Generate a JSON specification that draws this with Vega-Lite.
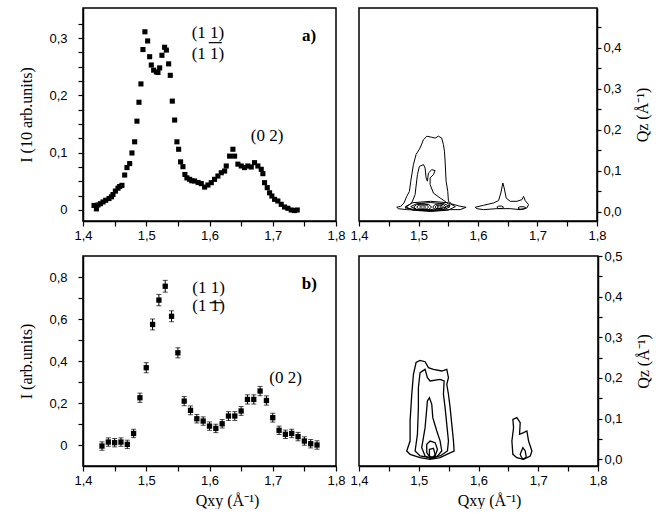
{
  "$schema": "https://vega.github.io/schema/vega-lite/v6.json",
  "background": "white",
  "padding": {"left": 18, "top": 7, "right": 5, "bottom": 0},
  "columns": 2,
  "spacing": {"row": 35, "column": 23},
  "bounds": "flush",
  "config": {
    "view": {"stroke": "black", "strokeWidth": 1.5},
    "axis": {"domainColor": "black", "domainWidth": 1.5, "tickColor": "black", "tickWidth": 1.2, "labelColor": "black", "labelFont": "Liberation Sans", "labelFontSize": 13, "titleFont": "Liberation Serif", "titleFontSize": 16, "titleFontWeight": "normal", "titleColor": "black", "grid": false, "labelFlush": false, "labelOverlap": false},
    "text": {"font": "Liberation Serif", "fontSize": 17, "color": "black"}
  },
  "datasets": {
    "a": [
      {"q":1.4174,"i":0.008},{"q":1.4212,"i":0.002},{"q":1.4237,"i":0.0087},{"q":1.4275,"i":0.011},{"q":1.4316,"i":0.014},{"q":1.4359,"i":0.017},{"q":1.4411,"i":0.020},{"q":1.4449,"i":0.023},{"q":1.4474,"i":0.027},{"q":1.4512,"i":0.033},{"q":1.4553,"i":0.038},{"q":1.458,"i":0.041},{"q":1.4616,"i":0.043},{"q":1.4659,"i":0.061},{"q":1.4695,"i":0.074},{"q":1.4738,"i":0.081},{"q":1.4774,"i":0.0995},{"q":1.4817,"i":0.119},{"q":1.4853,"i":0.155},{"q":1.4885,"i":0.188},{"q":1.4916,"i":0.22},{"q":1.4948,"i":0.28},{"q":1.4979,"i":0.311},{"q":1.5022,"i":0.295},{"q":1.5054,"i":0.2675},{"q":1.508,"i":0.253},{"q":1.5117,"i":0.244},{"q":1.516,"i":0.241},{"q":1.5185,"i":0.240},{"q":1.5212,"i":0.248},{"q":1.5248,"i":0.270},{"q":1.529,"i":0.284},{"q":1.5318,"i":0.279},{"q":1.5354,"i":0.255},{"q":1.538,"i":0.235},{"q":1.5412,"i":0.19},{"q":1.5449,"i":0.157},{"q":1.5485,"i":0.119},{"q":1.5512,"i":0.106},{"q":1.5543,"i":0.084},{"q":1.558,"i":0.0756},{"q":1.5611,"i":0.062},{"q":1.5643,"i":0.056},{"q":1.5686,"i":0.0535},{"q":1.572,"i":0.051},{"q":1.5765,"i":0.0506},{"q":1.582,"i":0.048},{"q":1.587,"i":0.046},{"q":1.5923,"i":0.040},{"q":1.5975,"i":0.0436},{"q":1.6028,"i":0.0477},{"q":1.608,"i":0.0535},{"q":1.6133,"i":0.0593},{"q":1.6186,"i":0.065},{"q":1.6239,"i":0.068},{"q":1.6265,"i":0.0768},{"q":1.6318,"i":0.094},{"q":1.637,"i":0.106},{"q":1.6397,"i":0.094},{"q":1.6449,"i":0.080},{"q":1.6502,"i":0.0768},{"q":1.6555,"i":0.074},{"q":1.6607,"i":0.0768},{"q":1.666,"i":0.075},{"q":1.6712,"i":0.0826},{"q":1.6765,"i":0.0768},{"q":1.6818,"i":0.071},{"q":1.6844,"i":0.0634},{"q":1.687,"i":0.0477},{"q":1.6913,"i":0.039},{"q":1.695,"i":0.030},{"q":1.6986,"i":0.0244},{"q":1.7029,"i":0.0186},{"q":1.7081,"i":0.0157},{"q":1.7134,"i":0.0099},{"q":1.7187,"i":0.0052},{"q":1.7239,"i":0.003},{"q":1.7292,"i":0.0},{"q":1.7344,"i":-0.001},{"q":1.7387,"i":0.0}
    ],
    "b": [
      {"q":1.43,"i":-0.005,"e":0.02},{"q":1.44,"i":0.014,"e":0.02},{"q":1.45,"i":0.011,"e":0.02},{"q":1.46,"i":0.014,"e":0.02},{"q":1.47,"i":0.003,"e":0.02},{"q":1.48,"i":0.055,"e":0.02},{"q":1.49,"i":0.225,"e":0.022},{"q":1.50,"i":0.368,"e":0.024},{"q":1.51,"i":0.574,"e":0.026},{"q":1.52,"i":0.69,"e":0.027},{"q":1.53,"i":0.756,"e":0.028},{"q":1.54,"i":0.613,"e":0.026},{"q":1.55,"i":0.439,"e":0.024},{"q":1.56,"i":0.209,"e":0.022},{"q":1.57,"i":0.165,"e":0.021},{"q":1.58,"i":0.125,"e":0.02},{"q":1.59,"i":0.114,"e":0.02},{"q":1.60,"i":0.09,"e":0.02},{"q":1.61,"i":0.079,"e":0.02},{"q":1.62,"i":0.101,"e":0.02},{"q":1.63,"i":0.138,"e":0.021},{"q":1.64,"i":0.138,"e":0.021},{"q":1.65,"i":0.162,"e":0.021},{"q":1.66,"i":0.217,"e":0.022},{"q":1.67,"i":0.217,"e":0.022},{"q":1.68,"i":0.257,"e":0.022},{"q":1.69,"i":0.212,"e":0.022},{"q":1.70,"i":0.13,"e":0.021},{"q":1.71,"i":0.07,"e":0.02},{"q":1.72,"i":0.051,"e":0.02},{"q":1.73,"i":0.055,"e":0.02},{"q":1.74,"i":0.04,"e":0.02},{"q":1.75,"i":0.019,"e":0.02},{"q":1.76,"i":0.006,"e":0.02},{"q":1.77,"i":0.0,"e":0.02}
    ],
    "ca": [
      {"c":"o","o":0,"q":1.4634,"z":0.0114},{"c":"o","o":1,"q":1.4701,"z":0.0138},{"c":"o","o":2,"q":1.4757,"z":0.022},{"c":"o","o":3,"q":1.4802,"z":0.038},{"c":"o","o":4,"q":1.4847,"z":0.050},{"c":"o","o":5,"q":1.487,"z":0.075},{"c":"o","o":6,"q":1.4914,"z":0.115},{"c":"o","o":7,"q":1.4959,"z":0.14},{"c":"o","o":8,"q":1.5027,"z":0.156},{"c":"o","o":9,"q":1.5083,"z":0.176},{"c":"o","o":10,"q":1.5139,"z":0.1846},{"c":"o","o":11,"q":1.5223,"z":0.182},{"c":"o","o":12,"q":1.5279,"z":0.180},{"c":"o","o":13,"q":1.5335,"z":0.1846},{"c":"o","o":14,"q":1.5391,"z":0.180},{"c":"o","o":15,"q":1.5419,"z":0.164},{"c":"o","o":16,"q":1.5436,"z":0.148},{"c":"o","o":17,"q":1.5447,"z":0.124},{"c":"o","o":18,"q":1.5464,"z":0.075},{"c":"o","o":19,"q":1.5492,"z":0.050},{"c":"o","o":20,"q":1.5503,"z":0.026},{"c":"o","o":21,"q":1.556,"z":0.0195},{"c":"o","o":22,"q":1.570,"z":0.0138},{"c":"o","o":23,"q":1.580,"z":0.0114},{"c":"o","o":24,"q":1.570,"z":0.0057},{"c":"o","o":25,"q":1.5532,"z":0.0057},{"c":"o","o":26,"q":1.5195,"z":0.0033},{"c":"o","o":27,"q":1.4802,"z":0.0057},{"c":"o","o":28,"q":1.4662,"z":0.008},
      {"c":"s","o":0,"q":1.4774,"z":0.0098},{"c":"s","o":1,"q":1.4886,"z":0.022},{"c":"s","o":2,"q":1.4942,"z":0.042},{"c":"s","o":3,"q":1.4982,"z":0.091},{"c":"s","o":4,"q":1.5015,"z":0.111},{"c":"s","o":5,"q":1.5083,"z":0.1154},{"c":"s","o":6,"q":1.5111,"z":0.107},{"c":"s","o":7,"q":1.5128,"z":0.083},{"c":"s","o":8,"q":1.515,"z":0.075},{"c":"s","o":9,"q":1.5167,"z":0.095},{"c":"s","o":10,"q":1.5223,"z":0.103},{"c":"s","o":11,"q":1.5279,"z":0.101},{"c":"s","o":12,"q":1.5251,"z":0.091},{"c":"s","o":13,"q":1.5195,"z":0.083},{"c":"s","o":14,"q":1.5195,"z":0.067},{"c":"s","o":15,"q":1.5251,"z":0.046},{"c":"s","o":16,"q":1.5363,"z":0.034},{"c":"s","o":17,"q":1.5447,"z":0.026},{"c":"s","o":18,"q":1.5532,"z":0.016},{"c":"s","o":19,"q":1.5419,"z":0.0098},{"c":"s","o":20,"q":1.5195,"z":0.0057},{"c":"s","o":21,"q":1.4914,"z":0.0065},
      {"c":"rA","o":0,"q":1.478,"z":0.013},{"c":"rA","o":1,"q":1.490,"z":0.0225},{"c":"rA","o":2,"q":1.52,"z":0.026},{"c":"rA","o":3,"q":1.550,"z":0.0225},{"c":"rA","o":4,"q":1.562,"z":0.013},{"c":"rA","o":5,"q":1.550,"z":0.0045},{"c":"rA","o":6,"q":1.52,"z":0.001},{"c":"rA","o":7,"q":1.490,"z":0.0045},
      {"c":"rB","o":0,"q":1.487,"z":0.013},{"c":"rB","o":1,"q":1.4965,"z":0.020},{"c":"rB","o":2,"q":1.52,"z":0.023},{"c":"rB","o":3,"q":1.5435,"z":0.020},{"c":"rB","o":4,"q":1.553,"z":0.013},{"c":"rB","o":5,"q":1.5435,"z":0.006},{"c":"rB","o":6,"q":1.52,"z":0.003},{"c":"rB","o":7,"q":1.4965,"z":0.006},
      {"c":"L1","o":0,"q":1.492,"z":0.012},{"c":"L1","o":1,"q":1.4965,"z":0.0176},{"c":"L1","o":2,"q":1.507,"z":0.020},{"c":"L1","o":3,"q":1.5175,"z":0.0176},{"c":"L1","o":4,"q":1.522,"z":0.012},{"c":"L1","o":5,"q":1.5175,"z":0.0064},{"c":"L1","o":6,"q":1.507,"z":0.004},{"c":"L1","o":7,"q":1.4965,"z":0.0064},
      {"c":"L2","o":0,"q":1.497,"z":0.012},{"c":"L2","o":1,"q":1.500,"z":0.0162},{"c":"L2","o":2,"q":1.507,"z":0.018},{"c":"L2","o":3,"q":1.514,"z":0.0162},{"c":"L2","o":4,"q":1.517,"z":0.012},{"c":"L2","o":5,"q":1.514,"z":0.0078},{"c":"L2","o":6,"q":1.507,"z":0.006},{"c":"L2","o":7,"q":1.500,"z":0.0078},
      {"c":"L3","o":0,"q":1.502,"z":0.012},{"c":"L3","o":1,"q":1.5035,"z":0.0141},{"c":"L3","o":2,"q":1.507,"z":0.015},{"c":"L3","o":3,"q":1.5105,"z":0.0141},{"c":"L3","o":4,"q":1.512,"z":0.012},{"c":"L3","o":5,"q":1.5105,"z":0.0099},{"c":"L3","o":6,"q":1.507,"z":0.009},{"c":"L3","o":7,"q":1.5035,"z":0.0099},
      {"c":"R1","o":0,"q":1.524,"z":0.012},{"c":"R1","o":1,"q":1.5273,"z":0.0176},{"c":"R1","o":2,"q":1.535,"z":0.020},{"c":"R1","o":3,"q":1.5427,"z":0.0176},{"c":"R1","o":4,"q":1.546,"z":0.012},{"c":"R1","o":5,"q":1.5427,"z":0.0064},{"c":"R1","o":6,"q":1.535,"z":0.004},{"c":"R1","o":7,"q":1.5273,"z":0.0064},
      {"c":"R2","o":0,"q":1.528,"z":0.012},{"c":"R2","o":1,"q":1.5301,"z":0.0155},{"c":"R2","o":2,"q":1.535,"z":0.017},{"c":"R2","o":3,"q":1.5399,"z":0.0155},{"c":"R2","o":4,"q":1.542,"z":0.012},{"c":"R2","o":5,"q":1.5399,"z":0.0085},{"c":"R2","o":6,"q":1.535,"z":0.007},{"c":"R2","o":7,"q":1.5301,"z":0.0085},
      {"c":"R3","o":0,"q":1.5315,"z":0.012},{"c":"R3","o":1,"q":1.5326,"z":0.0141},{"c":"R3","o":2,"q":1.535,"z":0.015},{"c":"R3","o":3,"q":1.5375,"z":0.0141},{"c":"R3","o":4,"q":1.5385,"z":0.012},{"c":"R3","o":5,"q":1.5375,"z":0.0099},{"c":"R3","o":6,"q":1.535,"z":0.009},{"c":"R3","o":7,"q":1.5326,"z":0.0099},
      {"c":"p","o":0,"q":1.5952,"z":0.0114},{"c":"p","o":1,"q":1.6093,"z":0.0163},{"c":"p","o":2,"q":1.6261,"z":0.022},{"c":"p","o":3,"q":1.6345,"z":0.0276},{"c":"p","o":4,"q":1.6384,"z":0.0463},{"c":"p","o":5,"q":1.6418,"z":0.0707},{"c":"p","o":6,"q":1.644,"z":0.0585},{"c":"p","o":7,"q":1.6474,"z":0.034},{"c":"p","o":8,"q":1.6541,"z":0.026},{"c":"p","o":9,"q":1.6654,"z":0.026},{"c":"p","o":10,"q":1.6738,"z":0.030},{"c":"p","o":11,"q":1.6766,"z":0.038},{"c":"p","o":12,"q":1.6794,"z":0.0276},{"c":"p","o":13,"q":1.685,"z":0.0179},{"c":"p","o":14,"q":1.6822,"z":0.0098},{"c":"p","o":15,"q":1.671,"z":0.0057},{"c":"p","o":16,"q":1.6541,"z":0.0081},{"c":"p","o":17,"q":1.6317,"z":0.0081},{"c":"p","o":18,"q":1.6093,"z":0.0057},{"c":"p","o":19,"q":1.598,"z":0.0081},
      {"c":"E1","o":0,"q":1.6317,"z":0.0114},{"c":"E1","o":1,"q":1.6345,"z":0.0143},{"c":"E1","o":2,"q":1.6401,"z":0.0143},{"c":"E1","o":3,"q":1.6429,"z":0.0114},{"c":"E1","o":4,"q":1.6401,"z":0.0085},{"c":"E1","o":5,"q":1.6345,"z":0.0085},
      {"c":"E2","o":0,"q":1.6671,"z":0.0098},{"c":"E2","o":1,"q":1.6705,"z":0.0127},{"c":"E2","o":2,"q":1.6771,"z":0.0127},{"c":"E2","o":3,"q":1.6805,"z":0.0098},{"c":"E2","o":4,"q":1.6771,"z":0.0069},{"c":"E2","o":5,"q":1.6705,"z":0.0069}
    ],
    "cb": [
      {"c":"o","o":0,"q":1.4799,"z":0.0205},{"c":"o","o":1,"q":1.4855,"z":0.045},{"c":"o","o":2,"q":1.4855,"z":0.094},{"c":"o","o":3,"q":1.4883,"z":0.16},{"c":"o","o":4,"q":1.4911,"z":0.209},{"c":"o","o":5,"q":1.4955,"z":0.238},{"c":"o","o":6,"q":1.5022,"z":0.2434},{"c":"o","o":7,"q":1.5106,"z":0.240},{"c":"o","o":8,"q":1.5162,"z":0.2254},{"c":"o","o":9,"q":1.5246,"z":0.2213},{"c":"o","o":10,"q":1.5385,"z":0.2172},{"c":"o","o":11,"q":1.5469,"z":0.2213},{"c":"o","o":12,"q":1.5497,"z":0.2008},{"c":"o","o":13,"q":1.5469,"z":0.1844},{"c":"o","o":14,"q":1.5497,"z":0.16},{"c":"o","o":15,"q":1.5525,"z":0.127},{"c":"o","o":16,"q":1.5553,"z":0.086},{"c":"o","o":17,"q":1.5581,"z":0.045},{"c":"o","o":18,"q":1.5592,"z":0.0205},{"c":"o","o":19,"q":1.5469,"z":0.0123},{"c":"o","o":20,"q":1.5358,"z":0.0041},{"c":"o","o":21,"q":1.519,"z":0.0},{"c":"o","o":22,"q":1.5022,"z":0.0041},{"c":"o","o":23,"q":1.4855,"z":0.0123},
      {"c":"s","o":0,"q":1.4939,"z":0.0205},{"c":"s","o":1,"q":1.4978,"z":0.0615},{"c":"s","o":2,"q":1.4994,"z":0.127},{"c":"s","o":3,"q":1.4994,"z":0.176},{"c":"s","o":4,"q":1.5022,"z":0.213},{"c":"s","o":5,"q":1.5106,"z":0.2213},{"c":"s","o":6,"q":1.5145,"z":0.2008},{"c":"s","o":7,"q":1.519,"z":0.1926},{"c":"s","o":8,"q":1.5358,"z":0.1967},{"c":"s","o":9,"q":1.5425,"z":0.1926},{"c":"s","o":10,"q":1.5413,"z":0.16},{"c":"s","o":11,"q":1.5441,"z":0.127},{"c":"s","o":12,"q":1.5469,"z":0.086},{"c":"s","o":13,"q":1.5497,"z":0.045},{"c":"s","o":14,"q":1.548,"z":0.0205},{"c":"s","o":15,"q":1.5358,"z":0.0082},{"c":"s","o":16,"q":1.519,"z":0.0041},{"c":"s","o":17,"q":1.5022,"z":0.0082},
      {"c":"t","o":0,"q":1.505,"z":0.0287},{"c":"t","o":1,"q":1.5106,"z":0.0779},{"c":"t","o":2,"q":1.5145,"z":0.1434},{"c":"t","o":3,"q":1.5179,"z":0.1516},{"c":"t","o":4,"q":1.5218,"z":0.1352},{"c":"t","o":5,"q":1.5235,"z":0.1025},{"c":"t","o":6,"q":1.5302,"z":0.0697},{"c":"t","o":7,"q":1.5358,"z":0.045},{"c":"t","o":8,"q":1.5385,"z":0.0205},{"c":"t","o":9,"q":1.5302,"z":0.0057},{"c":"t","o":10,"q":1.519,"z":0.0025},{"c":"t","o":11,"q":1.5106,"z":0.0082},
      {"c":"u","o":0,"q":1.5134,"z":0.0369},{"c":"u","o":1,"q":1.519,"z":0.045},{"c":"u","o":2,"q":1.5274,"z":0.041},{"c":"u","o":3,"q":1.5313,"z":0.0246},{"c":"u","o":4,"q":1.5274,"z":0.0082},{"c":"u","o":5,"q":1.519,"z":0.0041},{"c":"u","o":6,"q":1.5134,"z":0.0164},
      {"c":"v","o":0,"q":1.5179,"z":0.0246},{"c":"v","o":1,"q":1.5246,"z":0.027},{"c":"v","o":2,"q":1.5274,"z":0.0123},{"c":"v","o":3,"q":1.5235,"z":0.0025},{"c":"v","o":4,"q":1.5179,"z":0.0082},
      {"c":"p","o":0,"q":1.6575,"z":0.0123},{"c":"p","o":1,"q":1.6559,"z":0.045},{"c":"p","o":2,"q":1.6587,"z":0.0779},{"c":"p","o":3,"q":1.6575,"z":0.0984},{"c":"p","o":4,"q":1.6642,"z":0.1025},{"c":"p","o":5,"q":1.6698,"z":0.0902},{"c":"p","o":6,"q":1.6687,"z":0.0615},{"c":"p","o":7,"q":1.6754,"z":0.0656},{"c":"p","o":8,"q":1.681,"z":0.0697},{"c":"p","o":9,"q":1.6838,"z":0.045},{"c":"p","o":10,"q":1.6894,"z":0.0205},{"c":"p","o":11,"q":1.6866,"z":0.0082},{"c":"p","o":12,"q":1.6754,"z":0.0},{"c":"p","o":13,"q":1.6642,"z":0.0041},
      {"c":"w","o":0,"q":1.6698,"z":0.0123},{"c":"w","o":1,"q":1.6743,"z":0.0287},{"c":"w","o":2,"q":1.6782,"z":0.0205},{"c":"w","o":3,"q":1.6799,"z":0.0057},{"c":"w","o":4,"q":1.6743,"z":0.0},{"c":"w","o":5,"q":1.6709,"z":0.0082}
    ]
  },
  "concat": [
    {
      "width": 253, "height": 213,
      "encoding": {
        "x": {"field": "q", "type": "quantitative", "scale": {"domain": [1.4, 1.8], "nice": false, "zero": false},
          "axis": {"title": null, "values": [1.4,1.45,1.5,1.55,1.6,1.65,1.7,1.75,1.8], "tickSize": 5, "labelPadding": 3, "labelExpr": "abs(datum.value*10 - round(datum.value*10)) < 0.001 ? replace(format(datum.value, '.1f'), '.', ',') : ''"}},
        "y": {"field": "i", "type": "quantitative", "scale": {"domain": [-0.0192, 0.3525], "nice": false, "zero": false},
          "axis": {"title": "I (10 arb.units)", "titlePadding": 14, "values": [0,0.025,0.05,0.075,0.1,0.125,0.15,0.175,0.2,0.225,0.25,0.275,0.3,0.325], "tickSize": 5, "labelPadding": 11, "labelExpr": "datum.value == 0 ? '0' : (abs(datum.value*10 - round(datum.value*10)) < 0.001 ? replace(format(datum.value, '.1f'), '.', ',') : '')"}}
      },
      "layer": [
        {"data": {"name": "a"}, "mark": {"type": "point", "shape": "square", "filled": true, "color": "black", "size": 26, "opacity": 1}},
        {"data": {"values": [{"q":1.5975,"i":0.3094,"t":"(1  1)"},{"q":1.5975,"i":0.2717,"t":"(1  1)"},{"q":1.691,"i":0.129,"t":"(0 2)"}]}, "mark": {"type": "text", "align": "center", "baseline": "middle"}, "encoding": {"text": {"field": "t"}}},
        {"data": {"values": [{"q":1.7573,"i":0.3037,"t":"a)"}]}, "mark": {"type": "text", "align": "center", "baseline": "middle", "fontWeight": "bold"}, "encoding": {"text": {"field": "t"}}},
        {"data": {"values": [{"q":1.5988,"q2":1.6194,"i":0.292}]}, "mark": {"type": "rule", "color": "black", "strokeWidth": 1.2}, "encoding": {"x2": {"field": "q2"}}}
      ]
    },
    {
      "width": 238, "height": 213,
      "data": {"name": "ca"},
      "mark": {"type": "line", "interpolate": "linear-closed", "color": "black", "strokeWidth": 1},
      "encoding": {
        "x": {"field": "q", "type": "quantitative", "scale": {"domain": [1.4, 1.8], "nice": false, "zero": false},
          "axis": {"title": null, "values": [1.4,1.45,1.5,1.55,1.6,1.65,1.7,1.75,1.8], "tickSize": 5, "labelPadding": 3, "labelExpr": "abs(datum.value*10 - round(datum.value*10)) < 0.001 ? replace(format(datum.value, '.1f'), '.', ',') : ''"}},
        "y": {"field": "z", "type": "quantitative", "scale": {"domain": [-0.022, 0.497], "nice": false, "zero": false},
          "axis": {"orient": "right", "title": "Qz (Å⁻¹)", "titleAngle": -90, "titleBaseline": "top", "titlePadding": 13, "values": [0,0.05,0.1,0.15,0.2,0.25,0.3,0.35,0.4,0.45], "tickSize": 4, "labelPadding": 2, "labelExpr": "abs(datum.value*10 - round(datum.value*10)) < 0.001 ? replace(format(datum.value, '.1f'), '.', ',') : ''"}},
        "detail": {"field": "c"},
        "order": {"field": "o", "type": "quantitative"}
      }
    },
    {
      "width": 253, "height": 210,
      "encoding": {
        "x": {"field": "q", "type": "quantitative", "scale": {"domain": [1.4, 1.8], "nice": false, "zero": false},
          "axis": {"title": "Qxy (Å⁻¹)", "titleX": 144, "titlePadding": 5, "values": [1.4,1.45,1.5,1.55,1.6,1.65,1.7,1.75,1.8], "tickSize": 5, "labelPadding": 3, "labelExpr": "abs(datum.value*10 - round(datum.value*10)) < 0.001 ? replace(format(datum.value, '.1f'), '.', ',') : ''"}},
        "y": {"field": "i", "type": "quantitative", "scale": {"domain": [-0.1, 0.9], "nice": false, "zero": false},
          "axis": {"title": "I (arb.units)", "titlePadding": 14, "values": [0,0.1,0.2,0.3,0.4,0.5,0.6,0.7,0.8], "tickSize": 5, "labelPadding": 11, "labelExpr": "datum.value == 0 ? '0' : (abs(datum.value*5 - round(datum.value*5)) < 0.001 ? replace(format(datum.value, '.1f'), '.', ',') : '')"}}
      },
      "layer": [
        {"data": {"name": "b"}, "mark": {"type": "errorbar", "ticks": true, "color": "black"}, "encoding": {"yError": {"field": "e"}}},
        {"data": {"name": "b"}, "mark": {"type": "point", "shape": "square", "filled": true, "color": "black", "size": 28, "opacity": 1}},
        {"data": {"values": [{"q":1.5986,"i":0.75,"t":"(1  1)"},{"q":1.5986,"i":0.662,"t":"(1  1)"},{"q":1.7202,"i":0.3167,"t":"(0 2)"}]}, "mark": {"type": "text", "align": "center", "baseline": "middle"}, "encoding": {"text": {"field": "t"}}},
        {"data": {"values": [{"q":1.758,"i":0.769,"t":"b)"}]}, "mark": {"type": "text", "align": "center", "baseline": "middle", "fontWeight": "bold"}, "encoding": {"text": {"field": "t"}}},
        {"data": {"values": [{"q":1.6002,"q2":1.6202,"i":0.6776}]}, "mark": {"type": "rule", "color": "black", "strokeWidth": 1.2}, "encoding": {"x2": {"field": "q2"}}}
      ]
    },
    {
      "width": 239, "height": 210,
      "data": {"name": "cb"},
      "mark": {"type": "line", "interpolate": "linear-closed", "color": "black", "strokeWidth": 1.3},
      "encoding": {
        "x": {"field": "q", "type": "quantitative", "scale": {"domain": [1.4, 1.8], "nice": false, "zero": false},
          "axis": {"title": "Qxy (Å⁻¹)", "titleX": 130, "titlePadding": 5, "values": [1.4,1.45,1.5,1.55,1.6,1.65,1.7,1.75,1.8], "tickSize": 5, "labelPadding": 3, "labelExpr": "abs(datum.value*10 - round(datum.value*10)) < 0.001 ? replace(format(datum.value, '.1f'), '.', ',') : ''"}},
        "y": {"field": "z", "type": "quantitative", "scale": {"domain": [-0.0164, 0.5], "nice": false, "zero": false},
          "axis": {"orient": "right", "title": "Qz (Å⁻¹)", "titleAngle": -90, "titleBaseline": "top", "titlePadding": 13, "values": [0,0.05,0.1,0.15,0.2,0.25,0.3,0.35,0.4,0.45,0.5], "tickSize": 4, "labelPadding": 2, "labelExpr": "abs(datum.value*10 - round(datum.value*10)) < 0.001 ? replace(format(datum.value, '.1f'), '.', ',') : ''"}},
        "detail": {"field": "c"},
        "order": {"field": "o", "type": "quantitative"}
      }
    }
  ]
}
